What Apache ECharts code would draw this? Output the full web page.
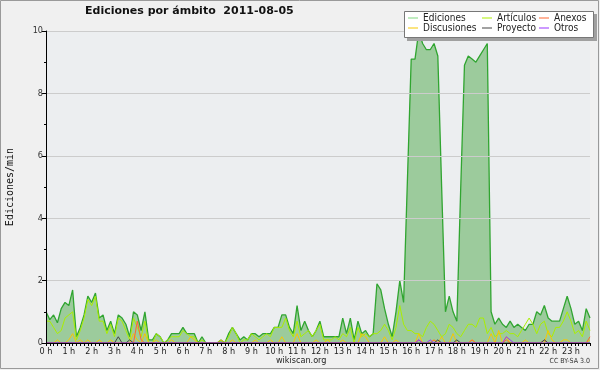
<!DOCTYPE html>
<html>
<head>
<meta charset="utf-8">
<script src="https://cdn.jsdelivr.net/npm/echarts@6/dist/echarts.min.js"></script>
<style>
    html, body { margin: 0; padding: 0; background: #f0f0f0; }
    #grafico { width: 600px; height: 370px; }
</style>
</head>
<body>
<div id="grafico"></div>
<script>
// etiquetas de las horas (una cada 6 puntos de 10 min)
var horas = ['0 h','1 h','2 h','3 h','4 h','5 h','6 h','7 h','8 h','9 h','10 h','11 h',
             '12 h','13 h','14 h','15 h','16 h','17 h','18 h','19 h','20 h','21 h','22 h','23 h'];
var minutos = ['00','10','20','30','40','50'];

// ediciones por minuto, promedio de cada tramo de 10 min
var ediciones = [
    1.0,0.75,0.9,0.65,1.1,1.3,1.2,1.7,0.2,0.5,0.9,1.5,
    1.3,1.6,0.8,0.9,0.4,0.7,0.3,0.9,0.8,0.6,0.2,1.0,
    0.9,0.4,1.0,0.1,0.1,0.3,0.2,0.0,0.1,0.3,0.3,0.3,
    0.5,0.3,0.3,0.3,0.0,0.2,0.0,0.0,0.0,0.0,0.1,0.0,
    0.3,0.5,0.3,0.1,0.2,0.1,0.3,0.3,0.2,0.3,0.3,0.3,
    0.5,0.5,0.9,0.9,0.5,0.3,1.2,0.4,0.7,0.4,0.2,0.4,
    0.7,0.2,0.2,0.2,0.2,0.2,0.8,0.3,0.8,0.1,0.7,0.3,
    0.4,0.2,0.3,1.9,1.7,1.1,0.6,0.2,1.0,2.0,1.3,5.2,
    9.1,9.1,10.0,9.6,9.4,9.4,9.6,9.2,5.0,1.0,1.5,1.0,
    0.7,4.9,8.9,9.2,9.1,9.0,9.2,9.4,9.6,1.0,0.6,0.8,
    0.6,0.5,0.7,0.5,0.6,0.5,0.4,0.6,0.6,1.0,0.9,1.2,
    0.8,0.7,0.7,0.7,1.1,1.5,1.1,0.6,0.7,0.4,1.1,0.8
];
var articulos = [
    0.7,0.7,0.5,0.3,0.4,0.8,0.9,1.0,0.1,0.4,0.8,1.4,
    1.2,1.5,0.7,0.7,0.3,0.6,0.2,0.8,0.7,0.4,0.1,0.8,
    0.5,0.2,0.7,0.0,0.0,0.3,0.2,0.0,0.1,0.2,0.2,0.2,
    0.4,0.3,0.2,0.2,0.0,0.1,0.0,0.0,0.0,0.0,0.0,0.0,
    0.2,0.5,0.3,0.0,0.1,0.1,0.3,0.2,0.1,0.2,0.3,0.2,
    0.5,0.5,0.5,0.8,0.4,0.2,0.7,0.2,0.3,0.4,0.2,0.4,
    0.6,0.1,0.1,0.1,0.2,0.1,0.3,0.2,0.5,0.0,0.5,0.2,
    0.3,0.2,0.3,0.3,0.4,0.6,0.4,0.1,0.5,1.2,0.6,0.4,
    0.4,0.3,0.3,0.2,0.5,0.7,0.6,0.4,0.2,0.3,0.6,0.5,
    0.3,0.2,0.4,0.6,0.6,0.5,0.8,0.8,0.3,0.5,0.2,0.3,
    0.3,0.4,0.3,0.3,0.2,0.4,0.6,0.8,0.6,0.3,0.6,0.7,
    0.3,0.2,0.5,0.5,0.7,1.0,0.7,0.3,0.4,0.2,0.7,0.4
];
var discusiones = [
    0,0,0,0.1,0,0,0.1,0.3,0,0.1,0,0.1,
    0,0,0.1,0,0,0.1,0,0,0,0,0,0.3,
    0.1,0,0.3,0,0,0.1,0,0,0,0.1,0,0,
    0,0,0.2,0.1,0,0,0,0,0,0,0.1,0,
    0,0.1,0,0,0,0,0,0.1,0,0,0,0.1,
    0,0,0.2,0,0,0,0.3,0,0,0,0,0.1,
    0,0,0.1,0,0,0,0.1,0,0,0,0,0.3,
    0.2,0,0,0,0,0.2,0,0,0.1,0,0,0,
    0,0,0.3,0,0,0,0.1,0,0.2,0,0,0.3,
    0,0,0,0,0.1,0,0,0,0,0.3,0,0.4,
    0,0.2,0,0,0,0,0.1,0,0,0,0,0,
    0.4,0.1,0,0,0.1,0.1,0,0,0,0,0,0.1
];
var anexos = [
    0,0,0,0,0,0,0,0,0,0,0,0,
    0,0,0,0,0,0,0,0,0,0,0,0,
    0.7,0.1,0,0,0,0,0,0,0,0,0,0,
    0,0,0,0,0,0,0,0,0,0,0,0,
    0,0,0,0,0,0,0,0,0,0,0,0,
    0,0,0,0,0,0,0,0,0,0,0,0,
    0,0,0,0,0,0,0,0,0,0,0,0,
    0,0,0,0,0,0,0,0,0,0,0,0,
    0,0,0.1,0,0,0,0.1,0,0,0,0,0,
    0,0,0,0,0.1,0,0,0,0,0,0,0,
    0,0.1,0,0,0,0,0,0,0,0,0,0.1,
    0,0,0,0,0,0,0,0,0,0,0,0.2
];
var proyecto = [
    0,0,0,0,0,0,0,0,0,0,0,0,
    0,0,0,0,0,0,0,0.2,0,0,0.1,0,
    0,0,0,0,0,0,0,0,0,0,0,0,
    0,0,0,0,0,0,0,0,0,0,0,0,
    0,0,0,0,0,0,0,0,0,0,0,0,
    0,0,0,0,0,0,0,0,0,0,0,0,
    0,0,0,0,0,0,0,0,0,0,0,0,
    0,0,0,0,0,0,0,0,0,0,0,0,
    0,0,0,0,0,0,0,0.1,0,0,0,0,
    0.1,0,0,0,0,0,0,0,0,0,0,0,
    0,0,0,0,0,0,0,0,0,0,0,0.1,
    0,0,0,0,0,0,0,0,0,0,0,0
];
var otros = [
    0,0,0,0,0,0,0,0,0,0,0,0,
    0,0,0,0,0,0,0,0,0,0,0,0,
    0,0,0,0,0,0,0,0,0,0,0,0,
    0,0,0,0,0,0,0,0,0,0,0,0,
    0,0,0,0,0,0,0,0,0,0,0,0,
    0,0,0,0,0,0,0,0,0,0,0,0,
    0,0,0,0,0,0,0,0,0,0,0,0,
    0,0,0,0,0,0,0,0,0,0,0,0,
    0,0,0.1,0,0,0.1,0,0,0,0,0,0,
    0,0,0,0,0,0,0,0,0,0,0,0,
    0,0.2,0.1,0,0,0,0,0,0,0,0,0,
    0,0,0,0,0,0,0,0,0,0,0,0
];

var categorias = [];
for (var h = 0; h < horas.length; h++) {
    for (var m = 0; m < minutos.length; m++) {
        categorias.push(h + ':' + minutos[m]);
    }
}

var fuente = 'DejaVu Sans Condensed';
var chart = echarts.init(document.getElementById('grafico'));

function serieLinea(nombre, datos, color) {
    return {
        name: nombre,
        type: 'line',
        data: datos,
        symbol: 'none',
        itemStyle: { color: color },
        lineStyle: { color: color, width: 1 }
    };
}

function leyenda(x, nombres) {
    return {
        orient: 'vertical',
        left: x,
        top: 13,
        padding: 0,
        itemGap: 0,
        itemWidth: 10,
        itemHeight: 1,
        icon: 'rect',
        selectedMode: false,
        z: 60,
        data: nombres,
        textStyle: { fontFamily: fuente, fontSize: 10, lineHeight: 10, color: '#222', padding: [0, 0, 0, 0] }
    };
}

var option = {
    animation: false,
    backgroundColor: '#f0f0f0',
    title: {
        text: 'Ediciones por ámbito  2011-08-05',
        left: 85,
        top: 6,
        padding: 0,
        textStyle: { fontFamily: 'DejaVu Sans', fontWeight: 'bold', fontSize: 11, color: '#111' }
    },
    legend: [
        leyenda(408, ['Ediciones', 'Discusiones']),
        leyenda(482, ['Artículos', 'Proyecto']),
        leyenda(539, ['Anexos', 'Otros'])
    ],
    grid: {
        left: 46, right: 10, top: 31, bottom: 27,
        outerBoundsMode: 'none',
        containLabel: false,
        show: true,
        backgroundColor: '#eceef0',
        borderWidth: 0
    },
    xAxis: {
        type: 'category',
        boundaryGap: false,
        data: categorias,
        z: 10,
        axisLine: { lineStyle: { color: '#000', width: 1 } },
        axisTick: { show: true, interval: 0, length: 3, lineStyle: { color: '#000' } },
        axisLabel: {
            interval: 5,
            margin: 4,
            fontFamily: fuente,
            fontSize: 9,
            color: '#222',
            formatter: function (v, i) { return horas[i / 6]; }
        },
        splitLine: { show: false }
    },
    yAxis: {
        type: 'value',
        min: 0,
        max: 10,
        interval: 2,
        z: 10,
        name: 'Ediciones/min',
        nameLocation: 'middle',
        nameGap: 31,
        nameTextStyle: { fontFamily: 'DejaVu Sans Mono', fontSize: 10, color: '#111' },
        axisLine: { show: true, lineStyle: { color: '#000' } },
        axisTick: { show: true, length: 4, lineStyle: { color: '#000' } },
        minorTick: { show: true, splitNumber: 2, length: 2, lineStyle: { color: '#000' } },
        axisLabel: { fontFamily: fuente, fontSize: 9, color: '#333', margin: 3 },
        splitLine: { show: true, lineStyle: { color: '#cccccc', width: 1 } }
    },
    graphic: [
        {
            type: 'rect', z: -10, silent: true,
            shape: { x: 0.5, y: 0.5, width: 598, height: 368 },
            style: { fill: null, stroke: '#9a9a9a', lineWidth: 1 }
        },
        // sombra y caja de la leyenda
        {
            type: 'rect', z: 50, silent: true,
            shape: { x: 407, y: 14, width: 190, height: 27 },
            style: { fill: '#a0a0a0' }
        },
        {
            type: 'rect', z: 50, silent: true,
            shape: { x: 404.5, y: 11.5, width: 189, height: 26 },
            style: { fill: '#ffffff', stroke: '#777', lineWidth: 1 }
        },
        {
            type: 'text', z: 5, silent: true,
            left: 276, top: 356,
            style: { text: 'wikiscan.org', fontFamily: fuente, fontSize: 9, fill: '#222' }
        },
        {
            type: 'text', z: 5, silent: true,
            right: 10, top: 358,
            style: { text: 'CC BY-SA 3.0', fontFamily: fuente, fontSize: 7, fill: '#333' }
        }
    ],
    series: [
        {
            name: 'Ediciones',
            type: 'line',
            data: ediciones,
            symbol: 'none',
            itemStyle: { color: '#80d880' },
            lineStyle: { color: '#30a530', width: 1.3 },
            areaStyle: { color: '#9ccb9c', opacity: 1 }
        },
        serieLinea('Artículos', articulos, '#aaee00'),
        serieLinea('Discusiones', discusiones, '#f7c800'),
        serieLinea('Anexos', anexos, '#ff6633'),
        serieLinea('Proyecto', proyecto, '#444444'),
        serieLinea('Otros', otros, '#9933ff')
    ]
};
chart.setOption(option);
</script>
</body>
</html>
